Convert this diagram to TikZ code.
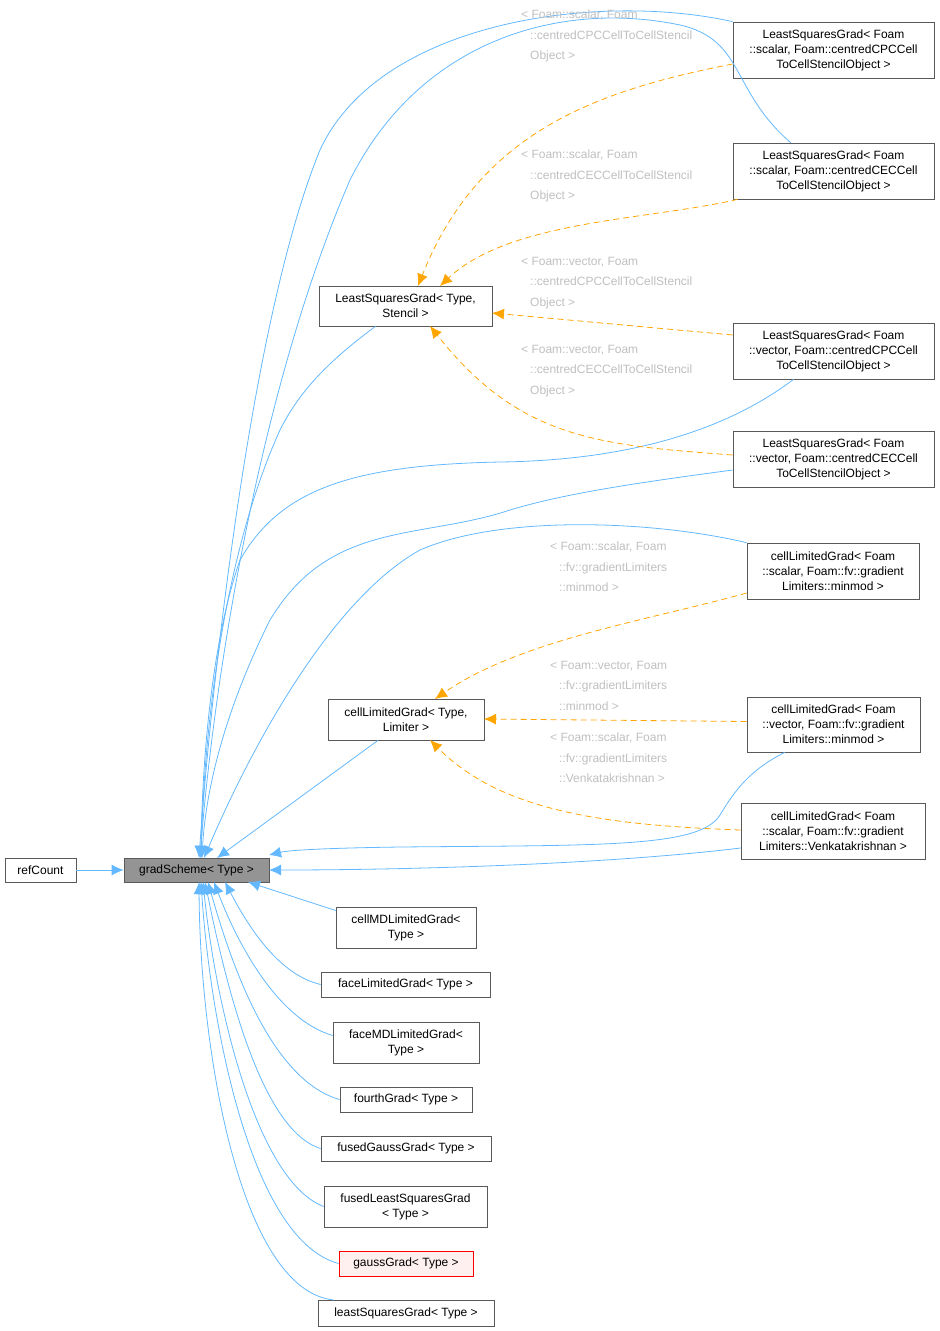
\documentclass[tikz,border=0pt]{standalone}
\usepackage{fontspec}
\setmainfont{Liberation Sans}
\usetikzlibrary{arrows.meta}
\definecolor{eb}{HTML}{63B8FF}
\definecolor{eo}{HTML}{FFA500}
\definecolor{lg}{HTML}{BFBFBF}
\begin{document}
\begin{tikzpicture}[x=1pt,y=-1pt,
 box/.style={draw=black!65,fill=white,font=\fontsize{12}{15}\selectfont,align=center,inner sep=0pt,line width=0.7pt},
 inh/.style={draw=eb,line width=0.8pt,-{Latex[length=12pt,width=11pt]}},
 tpl/.style={draw=eo,dash pattern=on 6pt off 4pt,line width=0.8pt,-{Latex[length=12pt,width=11pt]}},
 lab/.style={text=lg,font=\fontsize{12}{20.3}\selectfont,align=left,anchor=north west,inner sep=0pt}]
\useasboundingbox (0,0) rectangle (940,1331);
\newcommand{\bx}[5]{\node[box,minimum width=#3,minimum height=#4] (#1) at (#2) {#5};}
\bx{ref}{40.5,870}{71pt}{24pt}{refCount}
\node[box,fill=black!42,minimum width=145pt,minimum height=24pt] (gs) at (196.5,870) {gradScheme< Type >};
\bx{lsgT}{405.5,306}{173pt}{40pt}{LeastSquaresGrad< Type,\\Stencil >}
\bx{clgT}{406,719.5}{156pt}{41pt}{cellLimitedGrad< Type,\\Limiter >}
\bx{cmd}{406,927.5}{140pt}{41pt}{cellMDLimitedGrad<\\Type >}
\bx{flg}{405.5,984.5}{169pt}{25pt}{faceLimitedGrad< Type >}
\bx{fmd}{406,1042.5}{146pt}{41pt}{faceMDLimitedGrad<\\Type >}
\bx{fg}{406,1099.5}{132pt}{25pt}{fourthGrad< Type >}
\bx{fgg}{406,1148.5}{170pt}{25pt}{fusedGaussGrad< Type >}
\bx{flsg}{405.5,1206.5}{163pt}{41pt}{fusedLeastSquaresGrad\\< Type >}
\node[box,draw=red,fill=red!6,minimum width=134pt,minimum height=25pt] (gg) at (406,1263.5) {gaussGrad< Type >};
\bx{lsg}{406,1313}{176pt}{26pt}{leastSquaresGrad< Type >}
\bx{L1}{833.5,50}{201pt}{56pt}{LeastSquaresGrad< Foam\\::scalar, Foam::centredCPCCell\\ToCellStencilObject >}
\bx{L2}{833.5,171}{201pt}{56pt}{LeastSquaresGrad< Foam\\::scalar, Foam::centredCECCell\\ToCellStencilObject >}
\bx{L3}{833.5,351}{201pt}{56pt}{LeastSquaresGrad< Foam\\::vector, Foam::centredCPCCell\\ToCellStencilObject >}
\bx{L4}{833.5,459}{201pt}{56pt}{LeastSquaresGrad< Foam\\::vector, Foam::centredCECCell\\ToCellStencilObject >}
\bx{C1}{833,571}{172pt}{56pt}{cellLimitedGrad< Foam\\::scalar, Foam::fv::gradient\\Limiters::minmod >}
\bx{C2}{833.5,724.5}{173pt}{55pt}{cellLimitedGrad< Foam\\::vector, Foam::fv::gradient\\Limiters::minmod >}
\bx{C3}{833,831}{184pt}{56pt}{cellLimitedGrad< Foam\\::scalar, Foam::fv::gradient\\Limiters::Venkatakrishnan >}
% inheritance
\draw[inh] (ref) -- (gs);
\draw[inh] (L1.north west) .. controls (600,-8) and (380,20) .. (320,150) .. controls (250,320) and (210,700) .. (199,858);
\draw[inh] (L2.north west) ++(58,0) .. controls (730,90) and (745,40) .. (680,25) .. controls (560,0) and (420,40) .. (350,180) .. controls (255,400) and (212,700) .. (200,858);
\draw[inh] (lsgT.south) ++(-30,0) .. controls (330,360) and (300,390) .. (280,430) .. controls (230,540) and (205,700) .. (201,858);
\draw[inh] (L3.south) ++(-40,0) .. controls (740,420) and (650,460) .. (500,462) .. controls (350,465) and (280,490) .. (240,560) .. controls (212,640) and (202,760) .. (201,858);
\draw[inh] (L4.west) ++(0,11) .. controls (620,485) and (560,495) .. (510,510) .. controls (420,540) and (330,520) .. (270,620) .. controls (220,720) and (205,800) .. (202,858);
\draw[inh] (C1.north west) .. controls (650,520) and (500,515) .. (420,550) .. controls (330,600) and (250,750) .. (204,858);
\draw[inh] (clgT.south) ++(-28,0) -- (217,858);
\draw[inh] (C2.south west) ++(38,0) .. controls (750,770) and (735,790) .. (720,815) .. controls (700,848) and (600,845) .. (400,847) .. controls (330,848) and (290,850) .. (269,855);
\draw[inh] (C3.west) ++(0,17) .. controls (600,865) and (400,870) .. (269,870);
\draw[inh] (cmd.west) ++(0,-17) -- (248,882);
\draw[inh] (flg.west) .. controls (280,975) and (250,930) .. (225,882);
\draw[inh] (fmd.west) ++(0,-7) .. controls (280,1020) and (240,950) .. (214,882);
\draw[inh] (fg.west) .. controls (270,1080) and (230,960) .. (208,882);
\draw[inh] (fgg.west) .. controls (260,1130) and (225,980) .. (205,882);
\draw[inh] (flsg.west) .. controls (255,1180) and (215,1000) .. (203,882);
\draw[inh] (gg.west) .. controls (250,1240) and (210,1020) .. (201,882);
\draw[inh] (lsg.west) ++(16,-13) .. controls (240,1290) and (200,1050) .. (199,882);
% template
\draw[tpl] (L1.west) ++(0,14) .. controls (600,90) and (480,130) .. (418,286);
\draw[tpl] (L2.south west) ++(5,0) .. controls (650,220) and (510,220) .. (440,286);
\draw[tpl] (L3.west) ++(0,-16) -- (492,313);
\draw[tpl] (L4.west) ++(0,-4) .. controls (600,445) and (520,440) .. (430,326);
\draw[tpl] (C1.west) ++(0,22) .. controls (650,620) and (520,640) .. (435,699);
\draw[tpl] (C2.west) ++(0,-3) -- (484,719);
\draw[tpl] (C3.west) ++(0,-1) .. controls (600,825) and (500,810) .. (430,740);
% labels
\node[lab] at (521,10) {< Foam::scalar, Foam\\\hspace*{9pt}::centredCPCCellToCellStencil\\\hspace*{9pt}Object >};
\node[lab] at (521,150) {< Foam::scalar, Foam\\\hspace*{9pt}::centredCECCellToCellStencil\\\hspace*{9pt}Object >};
\node[lab] at (521,257) {< Foam::vector, Foam\\\hspace*{9pt}::centredCPCCellToCellStencil\\\hspace*{9pt}Object >};
\node[lab] at (521,345) {< Foam::vector, Foam\\\hspace*{9pt}::centredCECCellToCellStencil\\\hspace*{9pt}Object >};
\node[lab] at (550,542) {< Foam::scalar, Foam\\\hspace*{9pt}::fv::gradientLimiters\\\hspace*{9pt}::minmod >};
\node[lab] at (550,661) {< Foam::vector, Foam\\\hspace*{9pt}::fv::gradientLimiters\\\hspace*{9pt}::minmod >};
\node[lab] at (550,733) {< Foam::scalar, Foam\\\hspace*{9pt}::fv::gradientLimiters\\\hspace*{9pt}::Venkatakrishnan >};
\end{tikzpicture}
\end{document}
